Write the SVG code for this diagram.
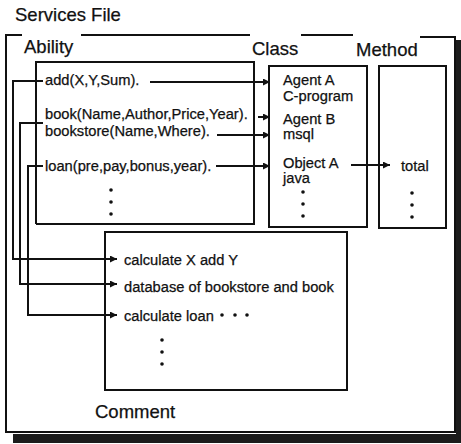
<svg xmlns="http://www.w3.org/2000/svg" width="461" height="444" viewBox="0 0 461 444">
  <style>
    .t { font-family: "Liberation Sans", Arial, sans-serif; font-size: 14.7px; fill: #111; stroke: #111; stroke-width: 0.25; }
    .h { font-family: "Liberation Sans", Arial, sans-serif; font-size: 18.5px; fill: #111; stroke: #111; stroke-width: 0.25; }
    .box { fill: none; stroke: #111; stroke-width: 2; }
    .ln { fill: none; stroke: #111; stroke-width: 2; }
    .dot { fill: #111; }
  </style>
  <defs>
    <marker id="arrow" viewBox="0 0 10 10" refX="10" refY="5" markerWidth="8" markerHeight="7" markerUnits="userSpaceOnUse" orient="auto">
      <path d="M0,0 L10,5 L0,10 z" fill="#111"/>
    </marker>
  </defs>

  <rect width="461" height="444" fill="#fff"/>

  <!-- title -->
  <text class="h" x="15" y="21">Services File</text>

  <!-- outer frame with drop shadow -->
  <g id="frame">
    <rect x="456" y="40" width="5" height="403" fill="#1c1c1c"/>
    <rect x="13" y="434" width="448" height="9" fill="#1c1c1c"/>
    <path class="ln" d="M22,35 H6 V432 H455 V37 H420"/>
    <path class="ln" d="M81,35 H250"/>
    <path class="ln" d="M301,35 H353"/>
  </g>

  <!-- Ability -->
  <g id="ability">
    <text class="h" x="24" y="53">Ability</text>
    <path class="ln" d="M36,224 V62 H254 V224 H36"/>
    <text class="t" x="45" y="85">add(X,Y,Sum).</text>
    <text class="t" x="45" y="119">book(Name,Author,Price,Year).</text>
    <text class="t" x="45" y="136">bookstore(Name,Where).</text>
    <text class="t" x="45" y="171">loan(pre,pay,bonus,year).</text>
    <circle class="dot" cx="111" cy="190" r="1.8"/>
    <circle class="dot" cx="111" cy="202" r="1.8"/>
    <circle class="dot" cx="111" cy="214" r="1.8"/>
  </g>

  <!-- Class -->
  <g id="class">
    <text class="h" x="252" y="55">Class</text>
    <rect class="box" x="269" y="66" width="98" height="161"/>
    <text class="t" x="283" y="85">Agent A</text>
    <text class="t" x="283" y="101">C-program</text>
    <text class="t" x="283" y="124">Agent B</text>
    <text class="t" x="283" y="139">msql</text>
    <text class="t" x="283" y="168">Object A</text>
    <text class="t" x="283" y="183">java</text>
    <circle class="dot" cx="303" cy="192" r="1.8"/>
    <circle class="dot" cx="303" cy="204" r="1.8"/>
    <circle class="dot" cx="303" cy="216" r="1.8"/>
  </g>

  <!-- Method -->
  <g id="method">
    <text class="h" x="356" y="56">Method</text>
    <rect class="box" x="379" y="66" width="67" height="162"/>
    <text class="t" x="401" y="171">total</text>
    <circle class="dot" cx="412" cy="193" r="1.8"/>
    <circle class="dot" cx="412" cy="205" r="1.8"/>
    <circle class="dot" cx="412" cy="217" r="1.8"/>
  </g>

  <!-- Comment -->
  <g id="comment">
    <rect class="box" x="105" y="232" width="242" height="158"/>
    <text class="t" x="124" y="265">calculate X add Y</text>
    <text class="t" x="124" y="292">database of bookstore and book</text>
    <text class="t" x="124" y="321">calculate loan</text>
    <circle class="dot" cx="222" cy="315" r="1.8"/>
    <circle class="dot" cx="235" cy="315" r="1.8"/>
    <circle class="dot" cx="247" cy="315" r="1.8"/>
    <circle class="dot" cx="162" cy="340" r="1.8"/>
    <circle class="dot" cx="162" cy="352" r="1.8"/>
    <circle class="dot" cx="162" cy="364" r="1.8"/>
    <text class="h" x="95" y="418">Comment</text>
  </g>

  <!-- connectors -->
  <g id="connectors" class="ln" marker-end="url(#arrow)">
    <path d="M150,82 H270"/>
    <path d="M258,117 H270"/>
    <path d="M217,135 H270"/>
    <path d="M216,166 H270"/>
    <path d="M351,165 H390"/>
    <path d="M43,81 H13 V259 H117"/>
    <path d="M43,123 H20 V284 H117"/>
    <path d="M43,166 H28 V315 H117"/>
  </g>
</svg>
